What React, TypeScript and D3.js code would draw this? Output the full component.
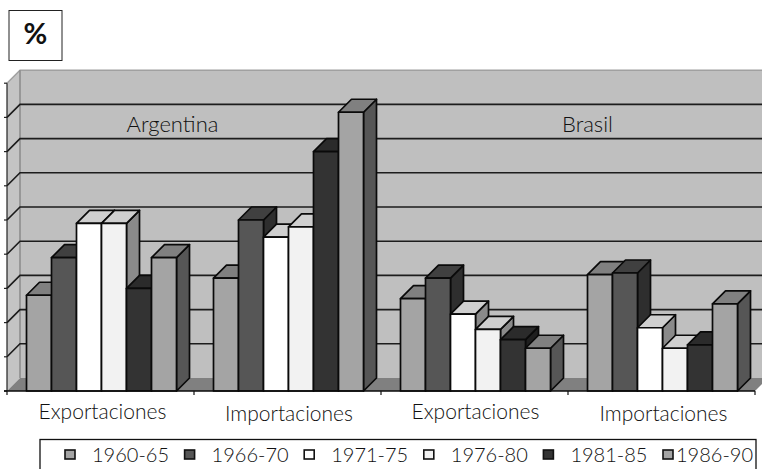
import React from "react";
import * as d3 from "d3";

const categories = ["Exportaciones", "Importaciones", "Exportaciones ", "Importaciones "];
const periods = ["1960-65", "1966-70", "1971-75", "1976-80", "1981-85", "1986-90"];
const countries = ["Argentina", "Brasil"];

const exportsArgentina = [28, 39, 49, 49, 30, 39];
const importsArgentina = [33, 50, 45, 48, 70, 81.5];
const exportsBrasil = [27, 33, 22.5, 18, 15, 12.5];
const importsBrasil = [34, 34.5, 18.5, 12.5, 13.5, 25.5];
const seriesByCategory = [exportsArgentina, importsArgentina, exportsBrasil, importsBrasil];

const yTicks = [0, 10, 20, 30, 40, 50, 60, 70, 80, 90];

// Grey shades per period: front, top and side faces of each column.
const faces = [
  { front: "#a4a4a4", top: "#808080", side: "#565656" },
  { front: "#565656", top: "#404040", side: "#2e2e2e" },
  { front: "#ffffff", top: "#cfcfcf", side: "#8a8a8a" },
  { front: "#f2f2f2", top: "#cfcfcf", side: "#8a8a8a" },
  { front: "#333333", top: "#2b2b2b", side: "#1f1f1f" },
  { front: "#a4a4a4", top: "#808080", side: "#565656" },
];

const W = 762;
const H = 469;
const depth = 13;
const axisLeft = 7;
const axisRight = 755;
const baseY = 391;
const font = "'Lato', 'Open Sans', sans-serif";

const y = d3.scaleLinear().domain([0, 90]).range([baseY, baseY - 9 * 34.2]);
const x0 = d3.scaleBand<string>().domain(categories).range([axisLeft, axisRight]);
const x1 = d3.scaleBand<string>().domain(periods).range([19.5, 169.5]);
const legendX = d3.scaleLinear().domain([0, 5]).range([65, 663]);

const pts = (p: number[][]) => p.map((q) => q.join(",")).join(" ");

function Column({ cat, period, value, face }: { cat: string; period: string; value: number; face: (typeof faces)[number] }) {
  const xl = (x0(cat) ?? 0) + (x1(period) ?? 0);
  const xr = xl + x1.bandwidth();
  const t = y(value);
  const stroke = { stroke: "#0a0a0a", strokeWidth: 1.7, strokeLinejoin: "round" as const };
  return (
    <g>
      <polygon points={pts([[xr, t], [xr + depth, t - depth], [xr + depth, baseY - depth], [xr, baseY]])} fill={face.side} {...stroke} />
      <polygon points={pts([[xl, t], [xl + depth, t - depth], [xr + depth, t - depth], [xr, t]])} fill={face.top} {...stroke} />
      <rect x={xl} y={t} width={xr - xl} height={baseY - t} fill={face.front} {...stroke} />
    </g>
  );
}

export default function App() {
  const wallTop = y(90) - depth;
  return (
    <svg width={W} height={H} viewBox={`0 0 ${W} ${H}`} style={{ position: "fixed", left: 0, top: 0, background: "#fff" }}>
      {/* Unit box */}
      <rect x={9} y={10.5} width={53} height={50} fill="#fff" stroke="#222" strokeWidth={1} />
      <text x={35.5} y={44} textAnchor="middle" fontFamily={font} fontWeight={700} fontSize={29} fill="#111">%</text>

      {/* Walls and floor of the 3D plot box */}
      <polygon points={pts([[axisLeft + depth, wallTop], [W + 10, wallTop], [W + 10, baseY - depth], [axisLeft + depth, baseY - depth]])} fill="#bfbfbf" />
      <polygon points={pts([[axisLeft, y(90)], [axisLeft + depth, wallTop], [axisLeft + depth, baseY - depth], [axisLeft, baseY]])} fill="#c4c4c4" />
      <polyline points={pts([[axisLeft, y(90)], [axisLeft + depth, wallTop], [W + 10, wallTop]])} fill="none" stroke="#a0a0a0" strokeWidth={1.5} />
      <line x1={axisLeft + depth} x2={axisLeft + depth} y1={wallTop} y2={baseY - depth} stroke="#8a8a8a" strokeWidth={1.5} />
      <polygon points={pts([[axisLeft, baseY], [axisLeft + depth, baseY - depth], [axisRight + depth, baseY - depth], [axisRight, baseY]])} fill="#808080" />

      {/* Gridlines run along the back wall and down the side wall */}
      {yTicks.slice(1, -1).map((t) => (
        <polyline key={t} points={pts([[axisLeft, y(t)], [axisLeft + depth, y(t) - depth], [W + 10, y(t) - depth]])} fill="none" stroke="#1c1c1c" strokeWidth={1.6} />
      ))}

      {/* Value axis */}
      <line x1={axisLeft} x2={axisLeft} y1={y(90)} y2={baseY} stroke="#222" strokeWidth={1.2} />
      {yTicks.map((t) => (
        <line key={t} x1={axisLeft - 3} x2={axisLeft} y1={y(t)} y2={y(t)} stroke="#222" strokeWidth={1.2} />
      ))}

      {countries.map((c, i) => (
        <text key={c} x={i === 0 ? 172.5 : 587.5} y={132} textAnchor="middle" fontFamily={font} fontWeight={300} fontSize={22} fill="#111">{c}</text>
      ))}

      {/* Columns are painted left to right so each one covers its neighbour's side face */}
      {categories.map((cat, ci) =>
        periods.map((p, si) => (
          <Column key={cat + p} cat={cat} period={p} value={seriesByCategory[ci][si]} face={faces[si]} />
        ))
      )}

      {/* Category axis */}
      <line x1={axisLeft - 3} x2={axisRight} y1={baseY} y2={baseY} stroke="#0a0a0a" strokeWidth={1.6} />
      {[...categories.map((c) => x0(c) ?? 0), axisRight].map((t) => (
        <line key={t} x1={t} x2={t} y1={baseY} y2={baseY + 4} stroke="#111" strokeWidth={1.2} />
      ))}
      {categories.map((c, i) => (
        <text
          key={c}
          x={[102.5, 289, 475.5, 663.5][i]}
          y={i % 2 === 0 ? 418.5 : 420.5}
          textAnchor="middle"
          fontFamily={font}
          fontWeight={300}
          fontSize={21}
          fill="#111"
        >
          {c.trim()}
        </text>
      ))}

      {/* Legend */}
      <rect x={40} y={439.5} width={716} height={40} fill="#fff" stroke="#111" strokeWidth={1.3} />
      {periods.map((p, i) => {
        const sx = legendX(i);
        const f = faces[i];
        return (
          <g key={p}>
            <rect x={sx} y={450} width={10} height={9} fill={f.front} stroke="#111" strokeWidth={1.6} />
            <text x={sx + (i === 5 ? 13 : 27)} y={462} fontFamily={font} fontWeight={300} fontSize={20} fill="#111">{p}</text>
          </g>
        );
      })}
    </svg>
  );
}
